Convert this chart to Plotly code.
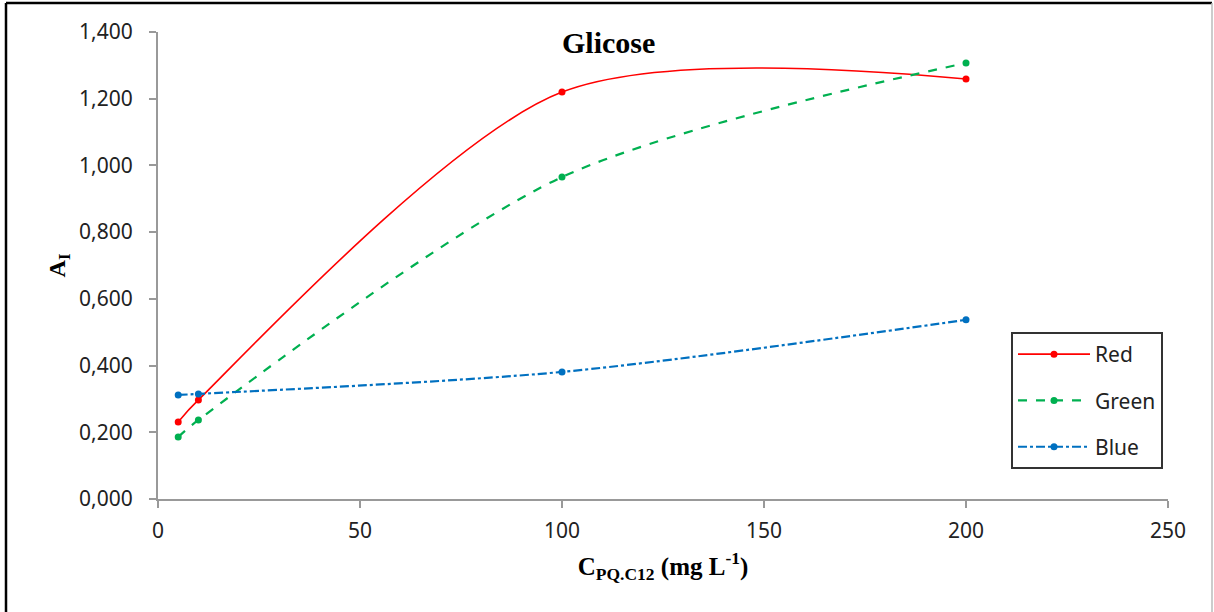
import plotly.graph_objects as go

conc = [5, 10, 100, 200]
red = [0.231, 0.297, 1.220, 1.259]
green = [0.186, 0.237, 0.965, 1.307]
blue = [0.312, 0.315, 0.381, 0.537]

series = [
    ("Red", red, "#ff0000", "solid"),
    ("Green", green, "#00b050", "dash"),
    ("Blue", blue, "#0070c0", "dashdot"),
]

fig = go.Figure()
for i, (name, vals, col, dash) in enumerate(series):
    fig.add_trace(go.Scatter(
        x=conc, y=vals, name=name, mode="lines+markers",
        line=dict(color=col, width=1.6 if dash == "solid" else 2.2, dash=dash,
                  shape="spline", smoothing=0.85),
        marker=dict(color=col, size=7, symbol="circle"),
        legendgroup=str(i),
    ))

L, R, T, B = 158, 46, 32, 113
W, H = 1214, 612
pw, ph = W - L - R, H - T - B

fig.update_layout(
    width=W, height=H,
    margin=dict(l=L, r=R, t=T, b=B),
    paper_bgcolor="white", plot_bgcolor="white",
    separators=", ",
    font=dict(family="Noto Sans", size=21, color="#222222"),
    showlegend=True,
    legend=dict(
        x=(1011 - L) / pw, y=(H - B - 332) / ph, xanchor="left", yanchor="top",
        bordercolor="#333333", borderwidth=2, bgcolor="white",
        font=dict(family="Noto Sans", size=21, color="#222222"),
        tracegroupgap=16, itemwidth=72,
    ),
    xaxis=dict(
        range=[0, 250], tickvals=[0, 50, 100, 150, 200, 250],
        showgrid=False, zeroline=False, showline=True, linecolor="#999999", linewidth=2,
        ticks="outside", ticklen=7, tickcolor="#999999", tickwidth=2,
        ticklabelstandoff=5,
        title=dict(text="<b>C<sub>PQ.C12</sub> (mg L<sup>-1</sup>)</b>",
                   font=dict(family="Liberation Serif", size=25, color="black"), standoff=14),
    ),
    yaxis=dict(
        range=[0, 1.4], tickvals=[0, 0.2, 0.4, 0.6, 0.8, 1.0, 1.2, 1.4], tickformat=".3f",
        showgrid=False, zeroline=False, showline=True, linecolor="#999999", linewidth=2,
        ticks="outside", ticklen=7, tickcolor="#999999", tickwidth=2,
        ticklabelstandoff=12,
        title=dict(text="<b>A<sub>I</sub></b>",
                   font=dict(family="Liberation Serif", size=24, color="black"), standoff=7),
    ),
    annotations=[dict(
        text="<b>Glicose</b>", x=(608 - L) / pw, y=(H - B - 43) / ph,
        xref="paper", yref="paper", showarrow=False, yanchor="middle", xanchor="center",
        font=dict(family="Liberation Serif", size=30, color="black"),
    )],
    shapes=[
        dict(type="line", xref="paper", yref="paper",
             x0=(6 - L) / pw, x1=(1212 - L) / pw, y0=(H - B - 3) / ph, y1=(H - B - 3) / ph,
             line=dict(color="black", width=2.5)),
        dict(type="line", xref="paper", yref="paper",
             x0=(6 - L) / pw, x1=(6 - L) / pw, y0=(H - B - 3) / ph, y1=(H - B - 612) / ph,
             line=dict(color="black", width=2.5)),
        dict(type="line", xref="paper", yref="paper",
             x0=(1212 - L) / pw, x1=(1212 - L) / pw, y0=(H - B - 3) / ph, y1=(H - B - 612) / ph,
             line=dict(color="#bbbbbb", width=1.5)),
    ],
)

fig.write_html("out.html")
